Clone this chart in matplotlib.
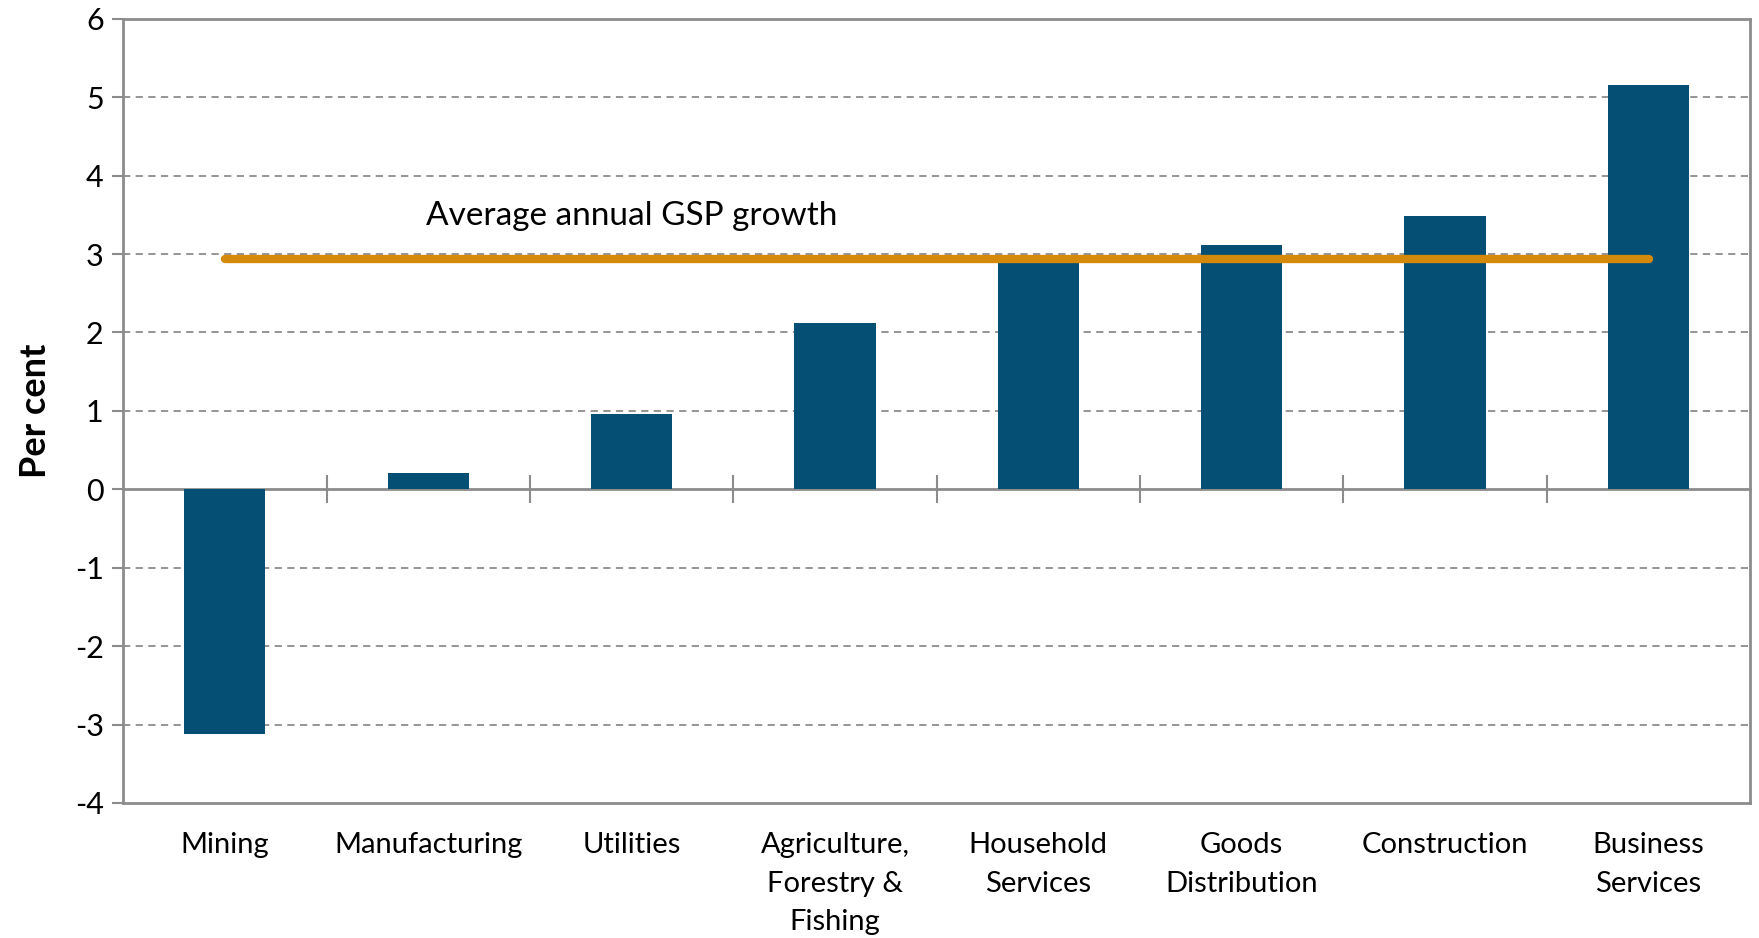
import numpy as np
import matplotlib.pyplot as plt
from matplotlib.transforms import blended_transform_factory

plt.rcParams['font.family'] = ['Lato', 'DejaVu Sans']

# --- Dữ liệu ---
categories = ["Mining", "Manufacturing", "Utilities", "Agriculture,\nForestry &\nFishing",
              "Household\nServices", "Goods\nDistribution", "Construction", "Business\nServices"]
growth = [-3.12, 0.21, 0.96, 2.12, 2.9, 3.12, 3.49, 5.16]
gsp_avg = 2.93
gsp_label = "Average annual GSP growth"
y_ticks = list(range(-4, 7))

bar_color = "#044F73"
line_color = "#D4890A"
grid_color = "#8C8C8C"

fig = plt.figure(figsize=(17.59, 9.38), dpi=100)
ax = fig.add_axes([0.070, 0.144, 0.925, 0.836])

x = np.arange(len(categories))
ax.bar(x, growth, width=0.4, color=bar_color, zorder=3)

# --- Đường trung bình GSP ---
ax.plot([x[0], x[-1]], [gsp_avg, gsp_avg], color=line_color, lw=6,
        solid_capstyle="round", zorder=4)
ax.text(x[2], gsp_avg + 0.56, gsp_label, ha="center", va="center",
        fontsize=24, color="black")

ax.set_xlim(-0.5, len(categories) - 0.5)
ax.set_ylim(-4, 6)
ax.set_yticks(y_ticks)
ax.set_yticklabels([str(t) for t in y_ticks], fontsize=22)

# lưới ngang nét đứt (trừ 0)
for t in y_ticks:
    if t not in (0, -4, 6):
        ax.axhline(t, color=grid_color, lw=1.3, ls=(0, (4, 3)), zorder=1)
ax.axhline(-4, color=grid_color, lw=2, zorder=2, clip_on=False)

# trục x tại 0, vạch ở ranh giới các nhóm
ax.spines["bottom"].set_position(("data", 0))
ax.set_xticks(np.arange(0.5, len(categories) - 0.5, 1))
ax.set_xticklabels([])
ax.tick_params(axis="x", direction="inout", length=20, width=1.5, color=grid_color)
ax.tick_params(axis="y", direction="out", length=8, width=1.5, color=grid_color, pad=6)

for s in ax.spines.values():
    s.set_color(grid_color)
    s.set_linewidth(2)

# nhãn nhóm dưới trục
trans = blended_transform_factory(ax.transData, ax.transAxes)
for xi, lab in zip(x, categories):
    ax.text(xi, -0.037, lab, transform=trans, ha="center", va="top",
            fontsize=21, linespacing=1.6)

ax.set_ylabel("Per cent", fontsize=26, fontweight="bold", labelpad=16)

fig.savefig("out.png", dpi=100)
